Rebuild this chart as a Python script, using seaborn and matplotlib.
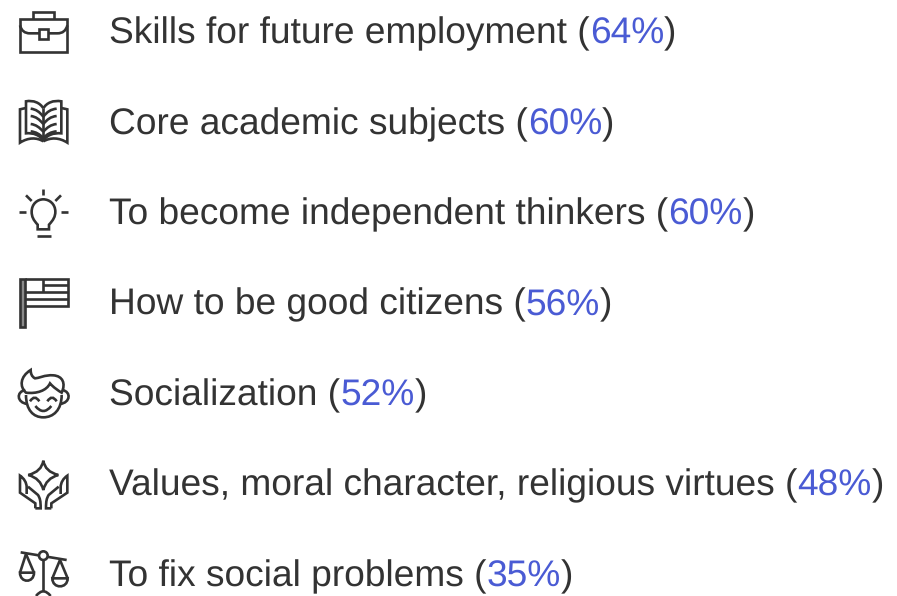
import re

import matplotlib.pyplot as plt
import pandas as pd
import seaborn as sns
from matplotlib.patches import Circle, PathPatch
from matplotlib.path import Path

# -----------------------------------
# DATA
# -----------------------------------

labels = [
    "Skills for future employment",
    "Core academic subjects",
    "To become independent thinkers",
    "How to be good citizens",
    "Socialization",
    "Values, moral character, religious virtues",
    "To fix social problems",
]
percents = [64, 60, 60, 56, 52, 48, 35]

df = pd.DataFrame({"label": labels, "percent": percents})

# -----------------------------------
# ICONS (path strings, in 3x pixels of the picture)
# -----------------------------------

briefcase = [
    "M 60 58 L 202 58 L 202 155 L 60 155 Z",
    "M 98 58 L 98 37 L 163 37 L 163 58",
    "M 60 76 C 64 92 74 100 90 100 L 118 100",
    "M 202 76 C 198 92 188 100 172 100 L 145 100",
    "M 118 88 L 145 88 L 145 117 L 118 117 Z",
]
book = [
    "M 130 325 L 130 423",
    "M 130 325 C 120 308 100 300 78 304 L 78 400 C 100 398 120 405 130 423",
    "M 130 325 C 140 308 160 300 184 304 L 184 400 C 160 398 140 405 130 423",
    "M 78 324 L 60 328 L 60 428 C 85 412 110 412 130 424",
    "M 184 324 L 202 328 L 202 428 C 177 412 152 412 130 424",
    "M 130 350 C 118 335 108 328 92 326",
    "M 130 372 C 118 358 108 350 92 348",
    "M 130 395 C 118 382 108 374 92 372",
    "M 130 414 C 118 402 108 396 92 394",
    "M 130 350 C 142 335 152 328 170 326",
    "M 130 372 C 142 358 152 350 170 348",
    "M 130 395 C 142 382 152 374 170 372",
    "M 130 414 C 142 402 152 396 170 394",
]
bulb = [
    "M 130 566 L 130 586",
    "M 78 586 L 95 603",
    "M 183 586 L 166 603",
    "M 58 637 L 78 637",
    "M 183 637 L 203 637",
    "M 113 688 L 113 674 C 100 660 95 650 95 635 C 95 612 112 598 130 598 "
    "C 148 598 166 612 166 635 C 166 650 160 660 147 674 L 147 688 Z",
    "M 110 707 L 152 707",
]
flag = [
    "M 60 27 L 75 27 L 75 172 L 60 172 Z",
    "M 75 27 L 203 27 L 203 107 L 75 107",
    "M 130 27 L 130 65",
    "M 130 45 L 203 45",
    "M 75 65 L 203 65",
    "M 75 87 L 203 87",
]
face = [
    "M 78 375 C 78 420 100 442 130 442 C 160 442 185 420 185 375",
    "M 92 300 C 60 320 58 350 78 368 C 110 372 140 362 150 340 C 160 352 175 362 185 368 "
    "C 198 340 188 318 160 316 C 135 314 115 325 105 325 C 95 320 92 310 92 300 Z",
    "M 76 360 C 48 365 50 398 82 402",
    "M 187 360 C 214 365 212 398 180 402",
    "M 90 394 Q 104 372 118 394",
    "M 142 394 Q 156 372 170 394",
    "M 106 408 Q 130 438 154 408",
]
hands = [
    "M 130 572 Q 135 605 175 615 Q 138 625 130 660 Q 122 625 85 615 Q 125 605 130 572 Z",
    "M 106 715 L 106 700 L 60 668 L 60 617 C 72 625 80 638 80 652 L 80 672",
    "M 84 650 L 114 675 C 120 685 122 692 122 715 L 106 715",
    "M 154 715 L 154 700 L 202 668 L 202 617 C 190 625 182 638 182 652 L 182 672",
    "M 176 650 L 146 675 C 140 685 138 692 138 715 L 154 715",
]
scales = [
    "M 62 847 L 200 870",
    "M 130 870 L 130 962",
    "M 108 978 Q 130 950 152 978",
    "M 78 852 L 60 908",
    "M 78 852 L 102 908",
    "M 60 908 L 102 908 C 102 940 60 940 60 908 Z",
    "M 180 870 L 157 925",
    "M 180 870 L 203 925",
    "M 157 925 L 203 925 C 203 957 157 957 157 925 Z",
]

# crop offset of each icon, in 3x pixels
icons = [(briefcase, 0), (book, 0), (bulb, 0), (flag, 810), (face, 810), (hands, 810), (scales, 810)]

# -----------------------------------
# STYLE
# -----------------------------------

sns.set_theme(style="white")
plt.rcParams["font.family"] = ["Liberation Sans", "DejaVu Sans"]
plt.rcParams["text.hinting"] = "no_hinting"

text_color = "#333333"
blue = "#4A5BD4"
font_size = 26.75
icon_lw = 1.9
first_baseline = 43.5
row_step = 90.4
text_x = 109
pct_nudge = 0.6  # the digits have no descender, so agg rounds them a pixel higher


def make_path(d, y_off):
    codes_for = {"M": Path.MOVETO, "L": Path.LINETO, "Q": Path.CURVE3, "C": Path.CURVE4}
    verts, codes = [], []
    for cmd, args in re.findall(r"([MLQCZ])([^MLQCZ]*)", d):
        if cmd == "Z":
            verts.append((0, 0))
            codes.append(Path.CLOSEPOLY)
            continue
        nums = [float(v) for v in args.split()]
        for i in range(0, len(nums), 2):
            verts.append((nums[i] / 3, (nums[i + 1] + y_off) / 3))
            codes.append(codes_for[cmd])
    return Path(verts, codes)


# -----------------------------------
# DRAW
# -----------------------------------

fig, ax = plt.subplots(figsize=(8.97, 5.96), dpi=100)
fig.subplots_adjust(0, 0, 1, 1)
ax.set_xlim(0, 897)
ax.set_ylim(596, 0)
ax.axis("off")
sns.despine(ax=ax, left=True, bottom=True)

renderer = fig.canvas.get_renderer()

for i, row in df.iterrows():
    y = first_baseline + row_step * i
    start = row["label"] + " ("
    pct = f"{row['percent']}%"

    t = ax.text(text_x, y, start, color=text_color, fontsize=font_size, va="baseline", ha="left")
    prop = t.get_fontproperties()
    w1 = renderer.get_text_width_height_descent(start, prop, False)[0]
    w2 = renderer.get_text_width_height_descent(start + pct, prop, False)[0]
    ax.text(text_x + w1, y + pct_nudge, pct, color=blue, fontsize=font_size, va="baseline", ha="left")
    ax.text(text_x + w2, y, ")", color=text_color, fontsize=font_size, va="baseline", ha="left")

for paths, y_off in icons:
    for d in paths:
        fill = "#8A8A8A" if d == flag[0] else "none"
        ax.add_patch(PathPatch(make_path(d, y_off), facecolor=fill, edgecolor=text_color,
                               linewidth=icon_lw, capstyle="butt", joinstyle="miter"))

# pivot of the scales sits on top of the beam
ax.add_patch(Circle((130 / 3, (857 + 810) / 3), 13 / 3, facecolor="white", edgecolor=text_color,
                    linewidth=icon_lw, zorder=3))

fig.savefig("out.png", dpi=100)
